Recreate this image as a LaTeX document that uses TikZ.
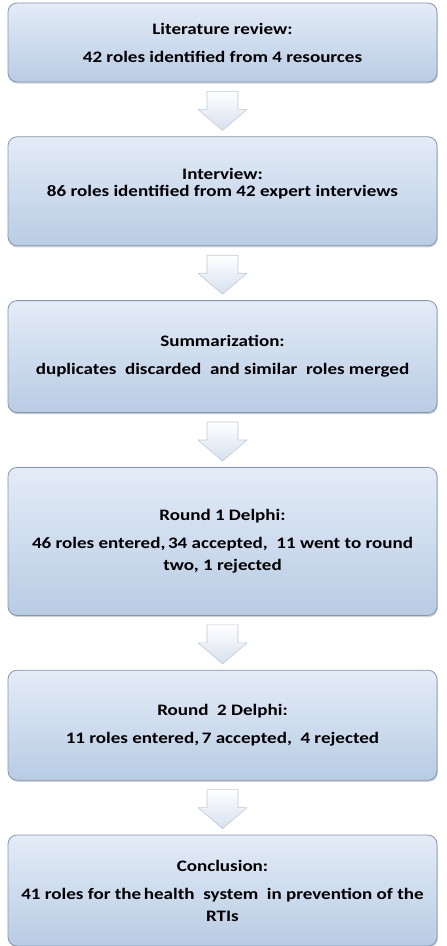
\documentclass[tikz,border=0pt]{standalone}
\usepackage{fontspec}
\setmainfont{Carlito}[FakeStretch=1.19]
\usepackage{xcolor}
\definecolor{boxtop}{HTML}{E4ECF7}
\definecolor{boxbot}{HTML}{B8CCE4}
\definecolor{boxline}{HTML}{8497B0}
\definecolor{arrline}{HTML}{BFCAD8}
\definecolor{arrfill}{HTML}{D6E0EE}
\usetikzlibrary{positioning,calc,shadows}
\tikzset{
  stepbox/.style={draw=boxline, line width=0.8pt, rounded corners=9pt,
             top color=boxtop, bottom color=boxbot, align=center,
             minimum width=429pt, inner sep=4pt,
             font=\bfseries\fontsize{16}{22}\selectfont,
             drop shadow={shadow xshift=0.8pt, shadow yshift=-1.6pt,
                          opacity=0.3, fill=black!60}},
  flowarrow/.style={draw=arrline, line width=0.6pt, line join=round,
             top color=white, bottom color=arrfill},
}
\begin{document}
\begin{tikzpicture}[node distance=54pt]
  \useasboundingbox (0,0) rectangle (447pt,-946pt);
  \node[stepbox, minimum height=79pt] (lit) at (222.5pt,-42.5pt)
    {Literature review:\\[6pt]42 roles identified from 4 resources};
  \node[stepbox, minimum height=109pt, below=of lit] (interview)
    {Interview:\\[-5pt]86 roles identified from 42 expert interviews\\[-4pt]\mbox{}};
  \node[stepbox, minimum height=112pt, below=of interview] (summary)
    {Summarization:\\[6pt]duplicates\ \ discarded\ \ and similar\ \ roles merged};
  \node[stepbox, minimum height=148pt, below=of summary] (round1)
    {Round 1 Delphi:\\[6pt]46 roles entered,\,34 accepted,\ \ 11 went to round\\two, 1 rejected};
  \node[stepbox, minimum height=110pt, below=of round1] (round2)
    {Round\ \ 2 Delphi:\\[6pt]11 roles entered,\,7 accepted,\ \ 4 rejected};
  \node[stepbox, minimum height=111pt, below=of round2] (concl)
    {Conclusion:\\[6pt]41 roles for the\,health\ \ system\ \ in prevention of the\\RTIs};
  % block arrows between the steps
  \foreach \a/\b in {lit/interview, interview/summary, summary/round1,
                     round1/round2, round2/concl} {
    \coordinate (\a-\b) at ($(\a.south)!0.5!(\b.north)$);
    \path[flowarrow] ([shift={(-15.5pt,18pt)}]\a-\b) -- ++(31pt,0)
      -- ++(0,-18pt) -- ++(9pt,0) -- ([yshift=-21pt]\a-\b)
      -- ([shift={(-24.5pt,0pt)}]\a-\b) -- ++(9pt,0) -- cycle;
  }
\end{tikzpicture}
\end{document}
